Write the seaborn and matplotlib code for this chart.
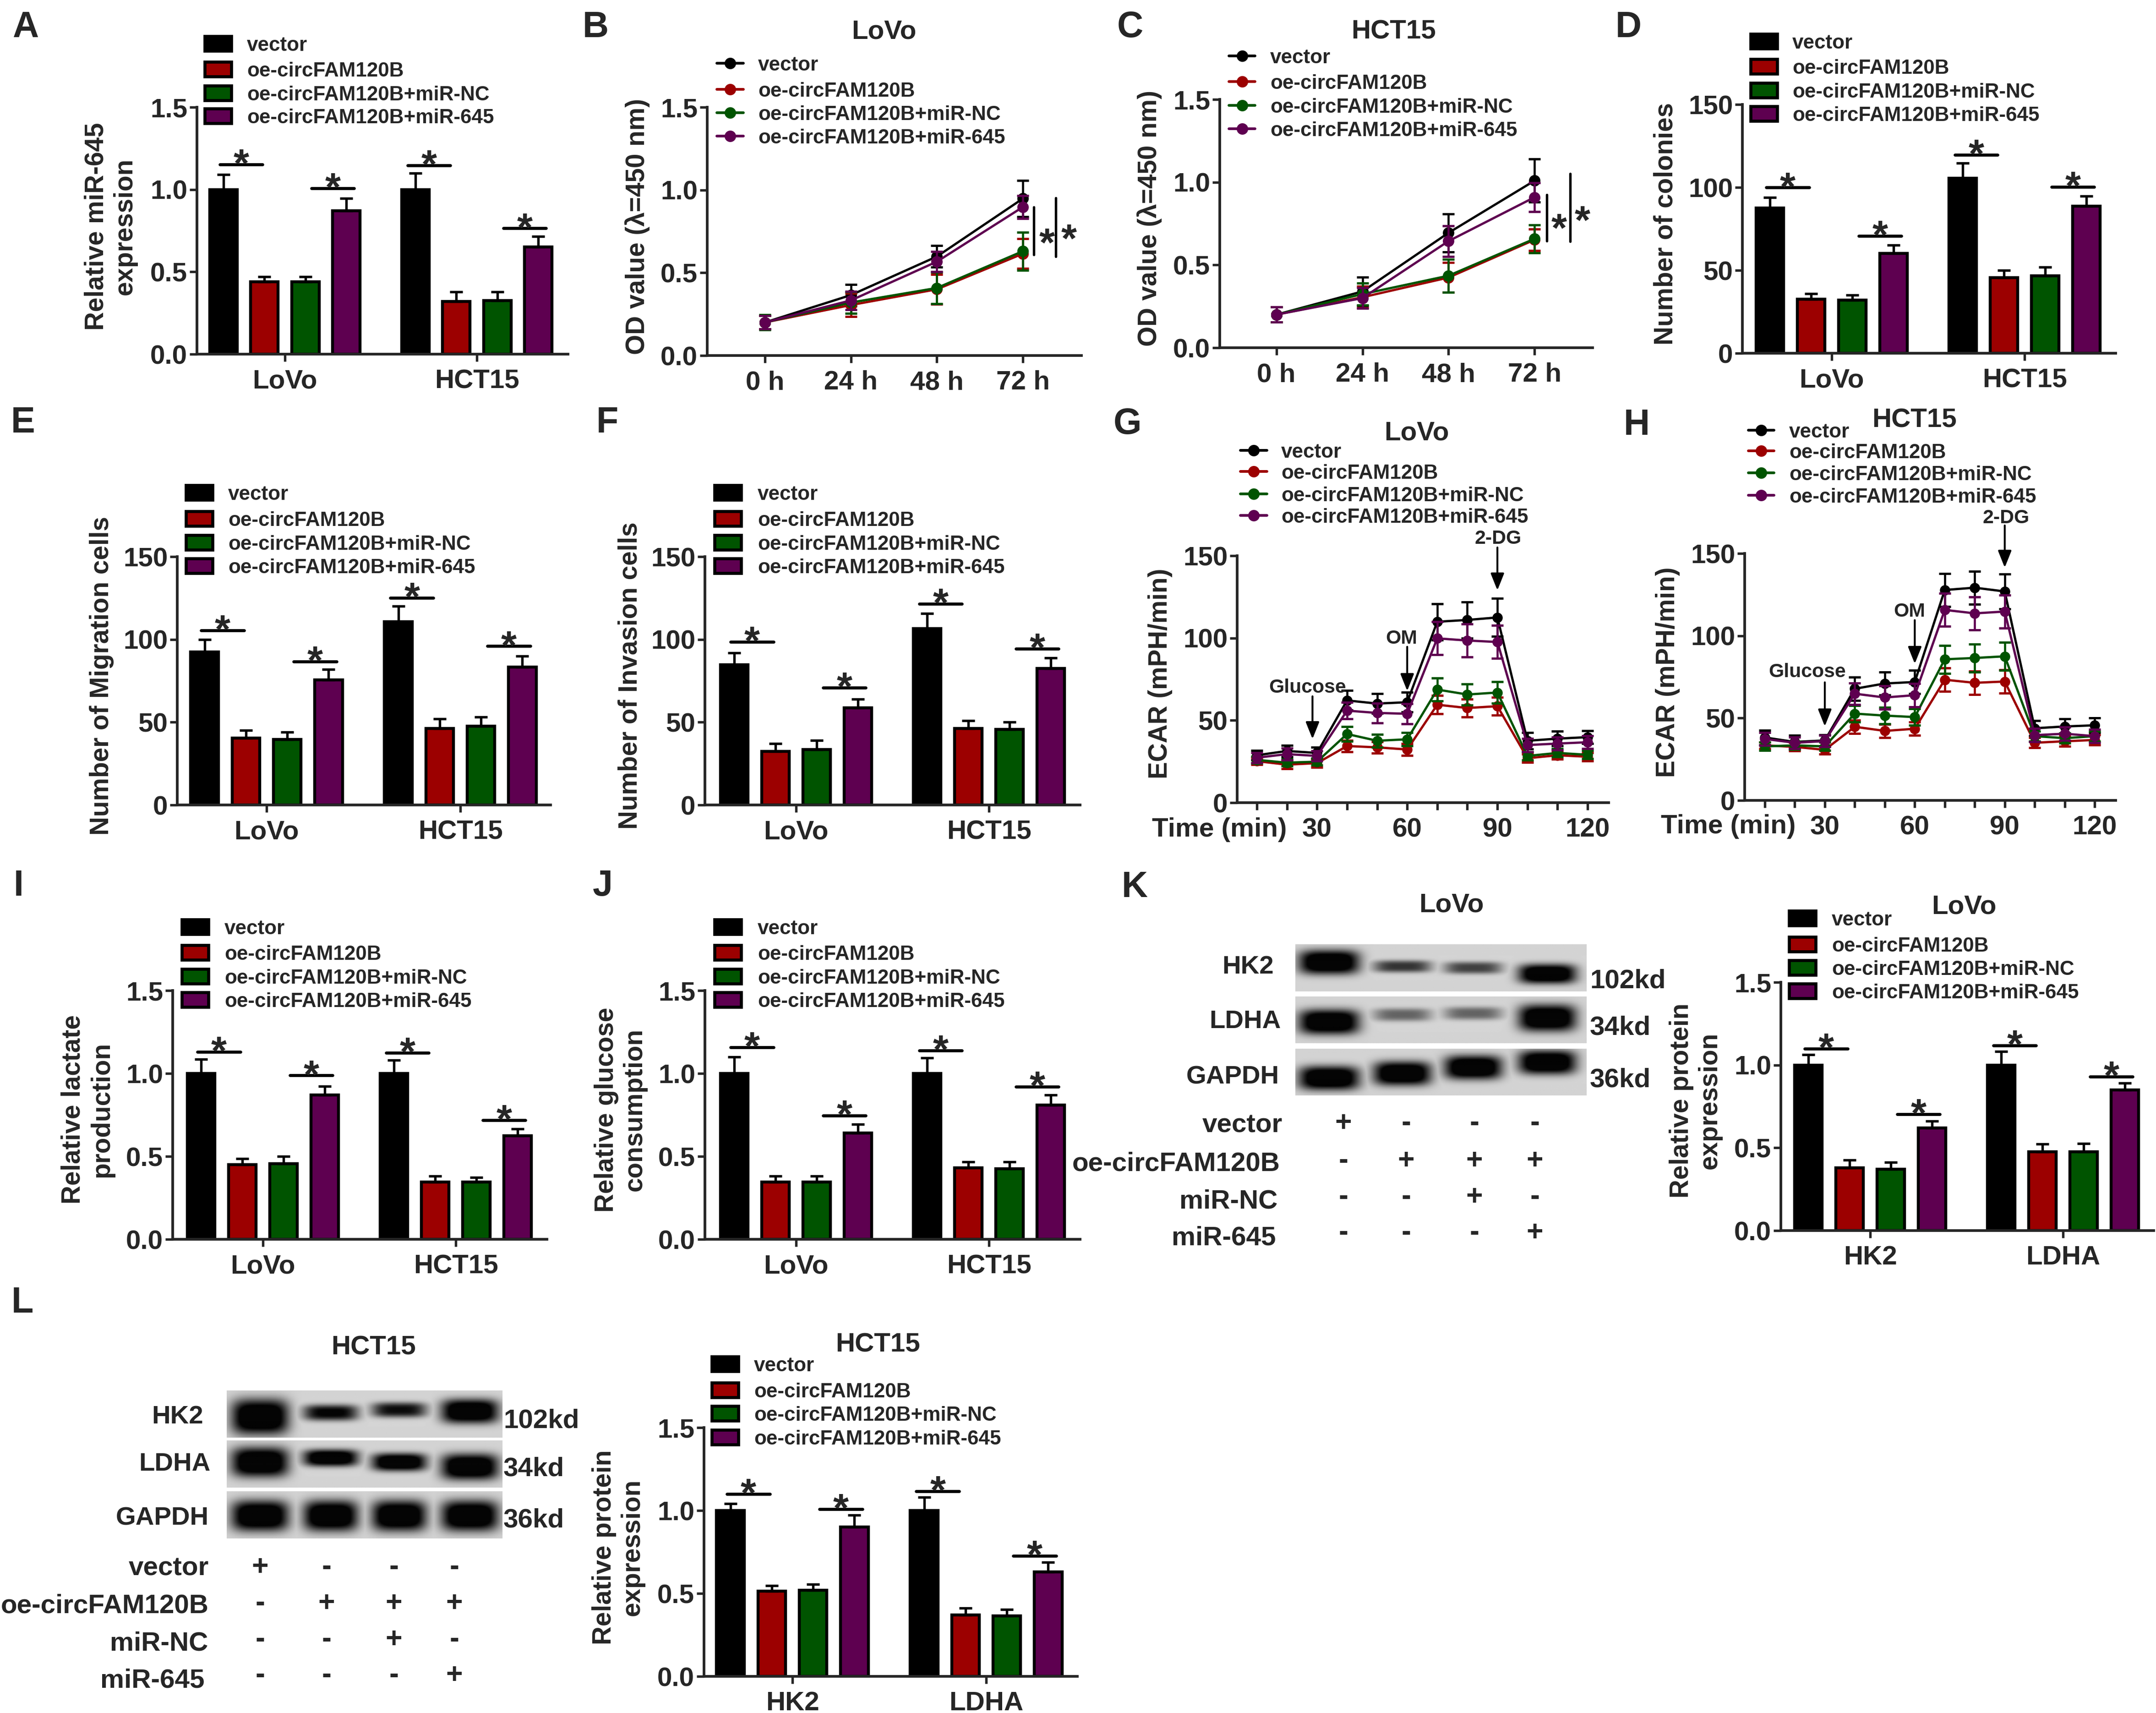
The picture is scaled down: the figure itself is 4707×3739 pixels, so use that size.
import numpy as np
import pandas as pd
import matplotlib
matplotlib.use("Agg")
import matplotlib.pyplot as plt
from matplotlib.patches import Rectangle
import seaborn as sns

W, H = 4707, 3739
GROUPS = ["vector", "oe-circFAM120B", "oe-circFAM120B+miR-NC", "oe-circFAM120B+miR-645"]
COLORS = ["#000000", "#9C0000", "#005400", "#5E0050"]
CELLS = ["LoVo", "HCT15"]
PROTEINS = ["HK2", "LDHA"]
HOURS = [0, 24, 48, 72]
HOUR_LABELS = ["0 h", "24 h", "48 h", "72 h"]
MINUTES = [10, 20, 30, 40, 50, 60, 70, 80, 90, 100, 110, 120]
MINUTE_LABELS = ["", "", "30", "", "", "60", "", "", "90", "", "", "120"]

# bar heights and the top of their error bars, group by group
A_MEANS = [1.0, 0.44, 0.44, 0.87, 1.0, 0.32, 0.325, 0.65]
A_CAPS = [1.09, 0.47, 0.47, 0.945, 1.10, 0.378, 0.378, 0.716]
A_LINES = [1.152, 1.008, 1.147, 0.764]
D_MEANS = [87.5, 32.5, 32, 60.2, 105.5, 45.5, 46.8, 88.6]
D_CAPS = [94, 36, 35, 65.2, 114.6, 50, 52, 94.8]
D_LINES = [99.9, 70.7, 119.7, 100.2]
E_MEANS = [92.5, 40.5, 39.5, 75.5, 110.8, 46.3, 47.6, 83.4]
E_CAPS = [99.9, 45, 44, 82, 120, 51.9, 53, 89.9]
E_LINES = [105.5, 86.7, 125, 95.9]
F_MEANS = [84.6, 32.5, 33.6, 58.6, 106.6, 46.3, 45.6, 82.5]
F_CAPS = [91.9, 37, 39, 64, 115.8, 50.9, 50, 88.9]
F_LINES = [98.6, 70.8, 121.4, 94.3]
I_MEANS = [1.0, 0.45, 0.455, 0.87, 1.0, 0.345, 0.345, 0.625]
I_CAPS = [1.085, 0.487, 0.5, 0.924, 1.08, 0.38, 0.374, 0.666]
I_LINES = [1.129, 0.988, 1.124, 0.718]
J_MEANS = [1.0, 0.345, 0.345, 0.64, 1.0, 0.43, 0.425, 0.81]
J_CAPS = [1.099, 0.38, 0.38, 0.694, 1.094, 0.466, 0.466, 0.869]
J_LINES = [1.157, 0.747, 1.138, 0.921]
K_MEANS = [1.0, 0.38, 0.37, 0.62, 1.0, 0.475, 0.475, 0.85]
K_CAPS = [1.063, 0.425, 0.411, 0.662, 1.083, 0.522, 0.525, 0.892]
K_LINES = [1.1, 0.703, 1.119, 0.929]
L_MEANS = [1.0, 0.515, 0.52, 0.90, 1.0, 0.37, 0.365, 0.63]
L_CAPS = [1.042, 0.547, 0.556, 0.973, 1.081, 0.412, 0.403, 0.688]
L_LINES = [1.099, 1.008, 1.116, 0.726]

# line panels: one row per group
B_MEANS = [[0.20, 0.365, 0.598, 0.948], [0.20, 0.305, 0.40, 0.615],
           [0.20, 0.32, 0.408, 0.63], [0.20, 0.333, 0.567, 0.897]]
B_ERRS = [[0.04, 0.065, 0.065, 0.11], [0.04, 0.07, 0.09, 0.09],
          [0.045, 0.065, 0.095, 0.115], [0.04, 0.055, 0.06, 0.07]]
C_MEANS = [[0.20, 0.34, 0.694, 1.009], [0.20, 0.305, 0.424, 0.652],
           [0.20, 0.324, 0.435, 0.658], [0.20, 0.30, 0.644, 0.909]]
C_ERRS = [[0.045, 0.085, 0.115, 0.13], [0.045, 0.065, 0.09, 0.065],
          [0.045, 0.066, 0.10, 0.085], [0.045, 0.062, 0.093, 0.088]]
G_MEANS = [[28.8, 31.4, 30.2, 62.1, 60.2, 61, 109.9, 111, 112.5, 37.6, 38.9, 39.8],
           [25.2, 23.1, 24, 34.4, 33.6, 32.3, 59.5, 57.5, 58.6, 27, 28.8, 27.9],
           [26, 24.3, 24.9, 41.7, 37.6, 38.5, 68.7, 65.7, 66.9, 28.4, 30.2, 29.1],
           [27.3, 29.5, 28.4, 55.9, 54.5, 54, 99.8, 98.5, 97.6, 35, 35.9, 36.7]]
G_ERRS = [[3, 3.5, 3.5, 6, 6, 6, 11, 11, 11.5, 5, 4.5, 4],
          [2, 2.5, 2.5, 3.5, 3.5, 3.5, 5.5, 5.5, 5.5, 2.5, 2.5, 2.5],
          [2, 2, 2, 4.5, 4, 4, 7, 6.5, 6.5, 2.5, 2.5, 2.5],
          [3, 3.5, 3, 5, 6, 6, 10, 10, 10, 4, 4, 4]]
H_MEANS = [[38.2, 35.5, 36.4, 67.8, 71, 71.9, 127.8, 129.2, 126.9, 43.8, 44.9, 45.6],
           [33.4, 32.5, 30.7, 44.7, 42.2, 43.5, 73.3, 71.4, 72.2, 35, 35.9, 36.7],
           [32.8, 33.4, 32.8, 52.7, 51.5, 50.6, 85.7, 86.5, 87.5, 39, 37.8, 39],
           [37.3, 35, 36, 64.8, 62.5, 63.9, 115.7, 113.6, 114.7, 39.6, 40.5, 39]]
H_ERRS = [[4.5, 4, 3.5, 7, 7, 7, 10, 10, 10.5, 4.5, 4.5, 4.5],
          [2, 2.5, 2.5, 4, 4, 4, 7, 7, 7, 3, 3, 3],
          [2.5, 2.5, 2.5, 5, 5, 5, 8.5, 8.5, 8.5, 3, 3, 3],
          [4, 3.5, 3.5, 6.5, 7, 7, 10, 10, 10, 4, 4, 4]]

# western blot panels
BLOT_ROWS = ["HK2", "LDHA", "GAPDH"]
BLOT_SIZES = ["102kd", "34kd", "36kd"]
CONDITIONS = ["vector", "oe-circFAM120B", "miR-NC", "miR-645"]
SIGNS = ["+---", "-+++", "--+-", "---+"]
# lane centre, half width; then per strip: band centre, half height, strength
K_LANES = [(0.115, 0.105), (0.367, 0.10), (0.611, 0.10), (0.866, 0.10)]
K_BANDS = [[(0.38, 0.26, 1.0), (0.47, 0.13, 0.6), (0.50, 0.13, 0.55), (0.63, 0.21, 1.0)],
           [(0.545, 0.27, 1.0), (0.39, 0.14, 0.42), (0.36, 0.14, 0.42), (0.46, 0.29, 1.0)],
           [(0.63, 0.26, 1.0), (0.53, 0.26, 1.0), (0.40, 0.26, 1.0), (0.29, 0.26, 1.0)]]
L_LANES = [(0.12, 0.105), (0.377, 0.10), (0.626, 0.10), (0.883, 0.105)]
L_BANDS = [[(0.56, 0.38, 1.0), (0.47, 0.17, 0.8), (0.41, 0.16, 0.75), (0.44, 0.26, 1.0)],
           [(0.46, 0.32, 1.0), (0.37, 0.18, 1.0), (0.46, 0.19, 1.0), (0.56, 0.28, 1.0)],
           [(0.52, 0.33, 1.0), (0.52, 0.33, 1.0), (0.52, 0.33, 1.0), (0.52, 0.33, 1.0)]]

sns.set_theme(style="ticks", rc={
    "axes.linewidth": 1.4, "xtick.major.width": 1.3, "ytick.major.width": 1.3,
    "xtick.major.size": 3.8, "ytick.major.size": 3.8,
    "xtick.major.pad": 3.9, "ytick.major.pad": 1.2,
    "xtick.labelsize": 14, "ytick.labelsize": 14, "axes.labelsize": 13.6,
    "font.weight": "bold", "axes.labelweight": "bold",
})
plt.rcParams["font.family"] = ["Liberation Sans", "DejaVu Sans"]

fig = plt.figure(figsize=((W + 0.01) / 300, (H + 0.01) / 300), dpi=300, facecolor="white")

# overlay in image pixels for the free text, legends and blots
over = fig.add_axes([0, 0, 1, 1], zorder=5, facecolor="none")
over.axis("off")


def em(size):
    return size * 300 / 72


def put(x, y, text, size=14, ha="center"):
    # y is the middle of the capitals
    over.text(x, y + 0.36 * em(size), text, fontsize=size, ha=ha, va="baseline", fontweight="bold")


def make_axes(left, right, top, bottom):
    ax = fig.add_axes([left / W, 1 - bottom / H, (right - left) / W, (bottom - top) / H])
    ax.patch.set_alpha(0)
    sns.despine(ax=ax)
    return ax


def set_ylabel(ax, text, x, y):
    ax.set_ylabel(text, va="center", ha="center")
    ax.yaxis.set_label_coords(x / W, 1 - y / H, transform=fig.transFigure)


def star(ax, x, y, drop=6.4):
    ax.annotate("*", xy=(x, y), xytext=(0, -drop), textcoords="offset points", ha="center",
                va="baseline", fontsize=21, fontweight="bold", annotation_clip=False)


def bar_legend(x, text_x, rows):
    for y, name, color in zip(rows, GROUPS, COLORS):
        over.add_patch(Rectangle((x + 3, y - 16), 58, 32, facecolor=color, edgecolor="black", lw=1.6))
        put(text_x, y, name, 10.55, ha="left")


def line_legend(x0, x1, text_x, rows):
    for y, name, color in zip(rows, GROUPS, COLORS):
        over.plot([x0, x1], [y, y], color=color, lw=1.4)
        over.plot([(x0 + x1) / 2], [y], "o", color=color, ms=6, mew=0)
        put(text_x, y, name, 10.55, ha="left")


def bar_panel(left, right, top, bottom, centre0, pitch, means, caps, lines, ylabel, label_xy, ymax=1.5,
              cats=CELLS):
    ax = make_axes(left, right, top, bottom)
    df = pd.DataFrame({
        "cell": np.repeat(cats, 4),
        "group": GROUPS * 2,
        "value": means,
    })
    sns.barplot(data=df, x="cell", y="value", hue="group", hue_order=GROUPS, palette=COLORS, order=cats,
                saturation=1, width=0.854, gap=0.33, errorbar=None, edgecolor="black", linewidth=1.55,
                legend=False, ax=ax)
    for i, container in enumerate(list(ax.containers)):
        for g, bar in enumerate(container):
            mean = means[g * 4 + i]
            ax.errorbar(bar.get_x() + bar.get_width() / 2, mean, yerr=[[0], [caps[g * 4 + i] - mean]],
                        color="black", lw=1.3, capsize=3.4, capthick=1.3, zorder=2)
    # the left line of the first group sits a little closer to the centre
    for k, (c, y) in enumerate(zip([-0.228, 0.25, 0.75, 1.25], lines)):
        ax.plot([c - 0.111, c + 0.111], [y, y], color="black", lw=1.6, clip_on=False)
        star(ax, c, y)
    ax.set_xlim((left - centre0) / pitch, (right - centre0) / pitch)
    ax.set_ylim(0, ymax)
    if ymax == 1.5:
        ax.set_yticks([0, 0.5, 1.0, 1.5], ["0.0", "0.5", "1.0", "1.5"])
    else:
        ax.set_yticks([0, 50, 100, 150], ["0", "50", "100", "150"])
    ax.set_xlabel("")
    set_ylabel(ax, ylabel, *label_xy)
    return ax


def line_panel(left, right, top, bottom, x_values, means, errs, xlim, ymax, yticks, ylabels, xticklabels,
               ylabel, label_xy, size=6.0, lw=1.2):
    ax = make_axes(left, right, top, bottom)
    df = pd.DataFrame({
        "x": list(x_values) * 4,
        "group": np.repeat(GROUPS, len(x_values)),
        "value": np.concatenate(means),
    })
    sns.lineplot(data=df, x="x", y="value", hue="group", hue_order=GROUPS, palette=COLORS, errorbar=None,
                 marker="o", markersize=size, markeredgewidth=0, linewidth=lw, legend=False, ax=ax)
    for i, line in enumerate(ax.get_lines()):
        line.set_zorder(3 + i)
    for i, color in enumerate(COLORS):
        ax.errorbar(x_values, means[i], yerr=errs[i], fmt="none", ecolor=color, elinewidth=1.1, capsize=3.1,
                    capthick=1.2, zorder=3 + i)
    ax.set_xlim(*xlim)
    ax.set_ylim(0, ymax)
    ax.set_xticks(x_values, xticklabels)
    ax.set_yticks(yticks, ylabels)
    ax.set_xlabel("")
    set_ylabel(ax, ylabel, *label_xy)
    return ax


def side_marks(ax, offsets, spans, star_offsets, star_ys):
    # vertical lines and stars to the right of the 72 h points
    for dx, (y0, y1), sx, sy in zip(offsets, spans, star_offsets, star_ys):
        ax.plot([72 + dx, 72 + dx], [y0, y1], color="black", lw=1.3, clip_on=False)
        star(ax, 72 + sx, sy, drop=12)


def arrow(ax, x, tail, tip):
    ax.annotate("", xy=(x, tip), xytext=(x, tail), annotation_clip=False,
                arrowprops=dict(arrowstyle="-|>,head_length=0.75,head_width=0.3", color="black", lw=1.0,
                                mutation_scale=10, shrinkA=0, shrinkB=0))


def blot(x0, x1, strips, lanes, bands, names, name_rights, name_ys, size_x, size_ys, cond_rights, cond_ys,
         sign_xs, sign_ys):
    for (y0, y1), strip in zip(strips, bands):
        xs = np.linspace(0, 1, 320)
        ys = np.linspace(0, 1, 80)
        xx, yy = np.meshgrid(xs, ys)
        dark = np.zeros_like(xx)
        for (cx, hw), (cy, hh, s) in zip(lanes, strip):
            dark = np.maximum(dark, s * np.exp(-np.abs((xx - cx) / hw) ** 4) * np.exp(-np.abs((yy - cy) / hh) ** 3))
        gray = 0.84 - 0.03 * np.abs(yy - 0.5) - 0.82 * np.clip(1.3 * dark, 0, 1)
        over.imshow(gray, cmap="gray", vmin=0, vmax=1, extent=(x0, x1, y1, y0), aspect="auto", zorder=1)
    for name, right, y in zip(names, name_rights, name_ys):
        put(right, y, name, 13.5, ha="right")
    for text, y in zip(BLOT_SIZES, size_ys):
        put(size_x, y, text, 14, ha="left")
    for name, right, y, row, sy in zip(CONDITIONS, cond_rights, cond_ys, SIGNS, sign_ys):
        put(right, y, name, 14, ha="right")
        for sign, sx in zip(row, sign_xs):
            over.text(sx, sy + 0.3 * em(15), sign, fontsize=15, fontweight="bold", ha="center", va="baseline")


# --- bar panels
bar_panel(430, 1240, 234, 773, 622, 419, A_MEANS, A_CAPS, A_LINES, "Relative miR-645\nexpression", (242, 494))
bar_legend(444, 539, [95, 151, 203, 253])
bar_panel(3804, 4619, 228, 771, 3999, 421, D_MEANS, D_CAPS, D_LINES, "Number of colonies", (3636, 488), ymax=150)
bar_legend(3819, 3913, [90, 145, 197, 248])
bar_panel(387, 1202, 1215, 1757, 582, 423, E_MEANS, E_CAPS, E_LINES, "Number of Migration cells", (222, 1475), ymax=150)
bar_legend(403, 498, [1075, 1132, 1184, 1235])
bar_panel(1539, 2358, 1215, 1757, 1738, 421, F_MEANS, F_CAPS, F_LINES, "Number of Invasion cells", (1375, 1475), ymax=150)
bar_legend(1557, 1654, [1075, 1132, 1184, 1235])
bar_panel(377, 1194, 2162, 2705, 574, 421, I_MEANS, I_CAPS, I_LINES, "Relative lactate\nproduction", (191, 2422))
bar_legend(394, 490, [2023, 2079, 2131, 2182])
bar_panel(1539, 2358, 2162, 2705, 1738, 421, J_MEANS, J_CAPS, J_LINES, "Relative glucose\nconsumption", (1355, 2422))
bar_legend(1557, 1654, [2023, 2079, 2131, 2182])
bar_panel(3888, 4702, 2144, 2686, 4083, 421, K_MEANS, K_CAPS, K_LINES, "Relative protein\nexpression", (3702, 2402),
          cats=PROTEINS)
bar_legend(3903, 3999, [2004, 2061, 2112, 2163])
bar_panel(1537, 2352, 3116, 3659, 1730, 423, L_MEANS, L_CAPS, L_LINES, "Relative protein\nexpression", (1350, 3377),
          cats=PROTEINS)
bar_legend(1551, 1646, [2977, 3034, 3085, 3137])

# --- viability curves
OD_TICKS = [0, 0.5, 1.0, 1.5]
OD_LABELS = ["0.0", "0.5", "1.0", "1.5"]
OD_NAME = "OD value (\u03bb=450 nm)"
ax_b = line_panel(1544, 2361, 234, 776, HOURS, B_MEANS, B_ERRS, (-16.1, 88.35), 1.5, OD_TICKS, OD_LABELS,
                  HOUR_LABELS, OD_NAME, (1391, 494))
side_marks(ax_b, [3.07, 9.2], [(0.61, 0.897), (0.598, 0.951)], [6.7, 12.9], [0.741, 0.765])
line_legend(1565, 1623, 1655, [138, 195, 246, 297])
put(1930, 63, "LoVo")
ax_c = line_panel(2663, 3477, 217, 759, HOURS, C_MEANS, C_ERRS, (-15.8, 88.2), 1.5, OD_TICKS, OD_LABELS,
                  HOUR_LABELS, OD_NAME, (2509, 476))
side_marks(ax_c, [3.45, 10], [(0.644, 0.925), (0.642, 1.052)], [6.8, 13.4], [0.782, 0.83])
line_legend(2683, 2740, 2773, [122, 178, 230, 281])
put(3042, 63, "HCT15")

# --- glycolysis traces
ECAR_TICKS = [0, 50, 100, 150]
ECAR_LABELS = ["0", "50", "100", "150"]
ax_g = line_panel(2701, 3512, 1213, 1752, MINUTES, G_MEANS, G_ERRS, (3.45, 127), 150, ECAR_TICKS, ECAR_LABELS,
                  MINUTE_LABELS, "ECAR (mPH/min)", (2533, 1470), size=5.4)
for x, tail, tip in [(28.5, 64.6, 38.7), (60, 94.7, 67.9), (90, 155, 129)]:
    arrow(ax_g, x, tail, tip)
put(2855, 1497, "Glucose", 10.3)
put(3060, 1390, "OM", 10.3)
put(3271, 1172, "2-DG", 10.3)
put(2662, 1805, "Time (min)", 14)
line_legend(2708, 2766, 2797, [983, 1029, 1078, 1125])
put(3093, 939, "LoVo")
ax_h = line_panel(3809, 4619, 1208, 1747, MINUTES, H_MEANS, H_ERRS, (3.28, 127), 150, ECAR_TICKS, ECAR_LABELS,
                  MINUTE_LABELS, "ECAR (mPH/min)", (3641, 1467), size=5.4)
for x, tail, tip in [(30, 71.7, 45), (60, 109.5, 83), (90, 167, 141.4)]:
    arrow(ax_h, x, tail, tip)
put(3946, 1463, "Glucose", 10.3)
put(4169, 1331, "OM", 10.3)
put(4380, 1127, "2-DG", 10.3)
put(3773, 1798, "Time (min)", 14)
line_legend(3817, 3873, 3906, [939, 984, 1032, 1081])
put(4179, 911, "HCT15")

# --- blots
blot(2828, 3463, [(2062, 2164), (2176, 2277), (2290, 2391)], K_LANES, K_BANDS, BLOT_ROWS,
     [2781, 2796, 2793], [2105, 2224, 2345], 3471, [2135, 2237, 2351],
     [2800, 2795, 2789, 2785], [2450, 2534, 2616, 2696], [2933, 3070, 3219, 3351], [2450, 2532, 2611, 2689])
put(3169, 1969, "LoVo")
put(4288, 1973, "LoVo")
blot(495, 1096, [(3036, 3138), (3145, 3247), (3256, 3358)], L_LANES, L_BANDS, BLOT_ROWS,
     [444, 459, 456], [3087, 3190, 3308], 1099, [3095, 3200, 3312],
     [456, 456, 454, 446], [3417, 3499, 3581, 3662], [568, 713, 860, 992], [3419, 3498, 3577, 3655])
put(815, 2935, "HCT15")
put(1916, 2929, "HCT15")

# --- panel letters
for letter, x, y in [("A", 27, 52), ("B", 1272, 52), ("C", 2439, 52), ("D", 3527, 52),
                     ("E", 24, 915), ("F", 1302, 915), ("G", 2431, 918), ("H", 3545, 920),
                     ("I", 30, 1926), ("J", 1294, 1926), ("K", 2449, 1929), ("L", 25, 2836)]:
    put(x, y, letter, 19, ha="left")

over.set_xlim(0, W)
over.set_ylim(H, 0)

fig.savefig("out.png", dpi=300)
